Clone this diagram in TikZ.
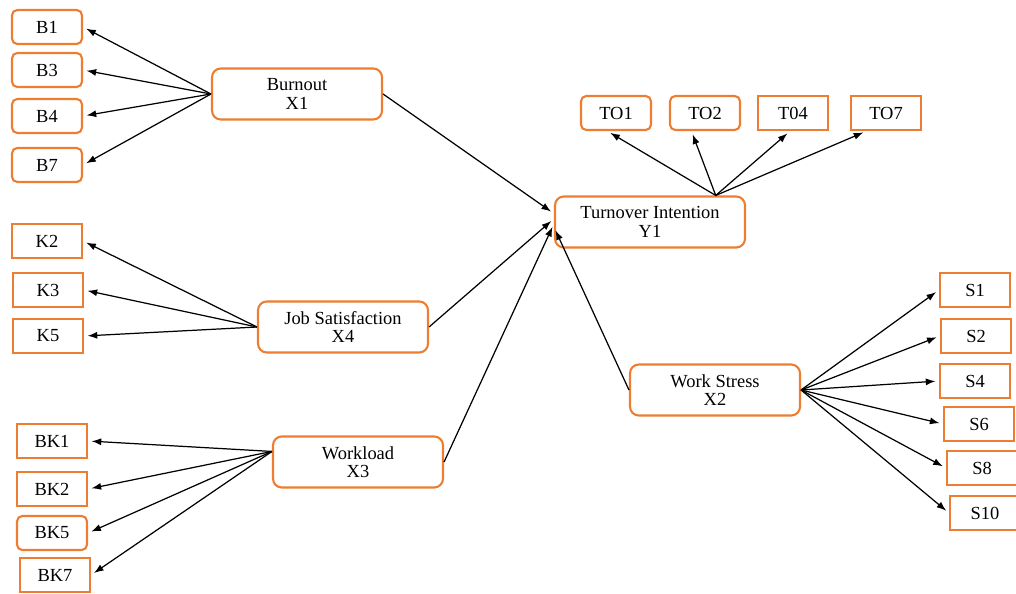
\documentclass[tikz,border=0pt]{standalone}
\usepackage{fontspec}
\setmainfont{Liberation Serif}
\usepackage{tikz}
\usetikzlibrary{arrows.meta}
\definecolor{boxorange}{RGB}{237,125,49}

\begin{document}
\begin{tikzpicture}[x=0.02cm, y=-0.02cm,
  font=\fontsize{10.5}{10.5}\selectfont,
  latent/.style={draw=boxorange, line width=1.2pt, rounded corners=5pt, minimum width=3.4cm, minimum height=1.02cm, align=center, inner sep=1pt},
  ind/.style={draw=boxorange, line width=1.2pt, minimum width=1.4cm, minimum height=0.68cm, inner sep=1pt},
  indr/.style={ind, rounded corners=3pt},
  arr/.style={-{Latex[length=5.5pt,width=4pt]}, line width=0.7pt, shorten >=2pt}]
\useasboundingbox (0,0) rectangle (1016,594);

\node[indr] (b1) at (47,27) {B1};
\node[indr] (b3) at (47,70) {B3};
\node[indr] (b4) at (47,116) {B4};
\node[indr] (b7) at (47,165) {B7};
\node[latent] (burnout) at (297,94) {Burnout\\X1};

\node[ind] (k2) at (47,241) {K2};
\node[ind] (k3) at (48,290) {K3};
\node[ind] (k5) at (48,336) {K5};
\node[latent] (jobsat) at (343,327) {Job Satisfaction\\X4};

\node[ind] (bk1) at (52,441) {BK1};
\node[ind] (bk2) at (52,489) {BK2};
\node[indr] (bk5) at (52,533) {BK5};
\node[ind] (bk7) at (55,575) {BK7};
\node[latent] (workload) at (358,462) {Workload\\X3};

\node[latent, minimum width=3.8cm] (turnover) at (650,222) {Turnover Intention\\Y1};
\node[indr] (to1) at (616,113) {TO1};
\node[indr] (to2) at (705,113) {TO2};
\node[ind] (to4) at (793,113) {T04};
\node[ind] (to7) at (886,113) {TO7};

\node[latent] (workstress) at (715,390) {Work Stress\\X2};
\node[ind] (s1) at (975,290) {S1};
\node[ind] (s2) at (976,336) {S2};
\node[ind] (s4) at (975,381) {S4};
\node[ind] (s6) at (979,424) {S6};
\node[ind] (s8) at (982,468) {S8};
\node[ind] (s10) at (985,513) {S10};

\draw[arr] (burnout.west) -- (b1.east);
\draw[arr] (burnout.west) -- (b3.east);
\draw[arr] (burnout.west) -- (b4.east);
\draw[arr] (burnout.west) -- (b7.east);

\draw[arr] (jobsat.west) -- (k2.east);
\draw[arr] (jobsat.west) -- (k3.east);
\draw[arr] (jobsat.west) -- (k5.east);

\draw[arr] (workload.173) -- (bk1.east);
\draw[arr] (workload.173) -- (bk2.east);
\draw[arr] (workload.173) -- (bk5.east);
\draw[arr] (workload.173) -- (bk7.east);

\draw[arr] (turnover.22) -- (to1.244);
\draw[arr] (turnover.22) -- (to2.233);
\draw[arr] (turnover.22) -- (to4.261);
\draw[arr] (turnover.22) -- (to7.223);

\draw[arr] (workstress.east) -- (s1.west);
\draw[arr] (workstress.east) -- (s2.west);
\draw[arr] (workstress.east) -- (s4.west);
\draw[arr] (workstress.east) -- (s6.west);
\draw[arr] (workstress.east) -- (s8.west);
\draw[arr] (workstress.east) -- (s10.west);

\draw[arr] (burnout.east) -- (turnover.175);
\draw[arr] (jobsat.east) -- (turnover.178);
\draw[arr] (workload.east) -- (turnover.181);
\draw[arr] (workstress.west) -- (turnover.183);
\end{tikzpicture}
\end{document}
